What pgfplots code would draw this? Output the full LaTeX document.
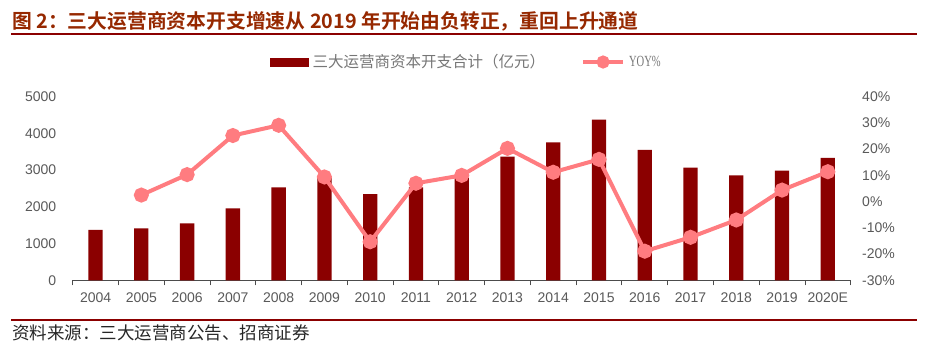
\documentclass[border=0pt]{standalone}
\usepackage{pgfplots}
\pgfplotsset{compat=1.18}
\usepackage{fontspec}
\setmainfont{Liberation Sans}
\newfontfamily\cjk{Noto Sans CJK SC}[BoldFont={Noto Sans CJK SC Bold}]
\newfontfamily\serifc{Liberation Serif}[FakeStretch=0.68]
\definecolor{barred}{RGB}{139,0,0}
\definecolor{linepink}{RGB}{255,124,128}
\definecolor{titlered}{RGB}{150,40,0}
\definecolor{lblgray}{RGB}{89,89,89}
\definecolor{leggray}{RGB}{118,118,118}
\begin{document}
\begin{tikzpicture}
\useasboundingbox (0bp,0bp) rectangle (932bp,-361bp);
\node[anchor=west, inner sep=0pt, text=titlered, font=\cjk\bfseries\fontsize{19.8bp}{24bp}\selectfont] at (12bp,-21bp) {图 2：三大运营商资本开支增速从 2019 年开始由负转正，重回上升通道};
\draw[barred, line width=2bp] (11bp,-34.3bp) -- (917bp,-34.3bp);
\draw[barred, line width=1.5bp] (11bp,-320bp) -- (917bp,-320bp);
\node[anchor=west, inner sep=0pt, text=black!85, font=\cjk\fontsize{17.5bp}{20bp}\selectfont] at (12bp,-333bp) {资料来源：三大运营商公告、招商证券};

\begin{axis}[
 at={(72.7bp,-280.3bp)}, anchor=south west, scale only axis,
 width=778bp, height=183.6bp,
 xmin=-0.5, xmax=16.5, ymin=0, ymax=5000,
 axis x line*=bottom, axis y line*=left,
 y axis line style={draw=none},
 x axis line style={draw=black!70, line width=1bp},
 xtick={0,...,16},
 xticklabels={2004,2005,2006,2007,2008,2009,2010,2011,2012,2013,2014,2015,2016,2017,2018,2019,2020E},
 minor xtick={-0.5,0.5,...,16.5},
 major tick length=0pt, minor tick length=5bp, tick align=outside,
 minor tick style={draw=black!70, line width=0.8bp},
 ytick={0,1000,...,5000},
 tick label style={font=\fontsize{14bp}{16bp}\selectfont, text=lblgray},
 yticklabel style={xshift=-13bp},
 xticklabel style={yshift=-9bp},
 scaled y ticks=false,
 /pgf/number format/assume math mode=true,
 /pgf/number format/set thousands separator={},
 clip=false,
]
\addplot[ybar, bar width=14.3bp, fill=barred, draw=none] coordinates {
(0,1370) (1,1416) (2,1552) (3,1961) (4,2533) (5,2795) (6,2350) (7,2533) (8,2795)
(9,3366) (10,3758) (11,4374) (12,3549) (13,3067) (14,2859) (15,2985) (16,3331)};
\end{axis}

\begin{axis}[
 at={(72.7bp,-280.3bp)}, anchor=south west, scale only axis,
 width=778bp, height=183.6bp,
 xmin=-0.5, xmax=16.5, ymin=-30, ymax=40,
 axis y line*=right, axis x line=none,
 y axis line style={draw=none},
 ytick={-30,-20,...,40}, major tick length=0pt,
 yticklabel={\pgfmathprintnumber{\tick}\%},
 yticklabel style={xshift=8bp, font=\fontsize{14bp}{16bp}\selectfont, text=lblgray},
 /pgf/number format/assume math mode=true,
 clip=false,
 legend columns=2,
 legend style={at={(axis description cs:0.2536,1.189)}, anchor=west, draw=none, fill=none,
   inner sep=0pt, nodes={inner sep=0pt}, font=\fontsize{15.5bp}{18bp}\selectfont, text=leggray,
   /tikz/every odd column/.style={column sep=4bp},
   /tikz/every even column/.style={column sep=36bp}},
 legend cell align=left,
]
\addlegendimage{legend image code/.code={\fill[barred] (0bp,-3.7bp) rectangle (38bp,3.7bp);}}
\addlegendentry{\cjk 三大运营商资本开支合计（亿元）}
\addplot[linepink, line width=4bp, mark=*, mark size=5.5bp, mark options={fill=linepink, draw=none},
 legend image code/.code={\draw[linepink, line width=4bp] (0bp,0bp) -- (40bp,0bp); \fill[linepink] (20bp,0bp) circle (4.5bp);}]
 coordinates {
(1,2.5) (2,10.3) (3,25.2) (4,29.1) (5,9.4) (6,-15.3) (7,7.0) (8,10.0)
(9,20.3) (10,11.2) (11,16.1) (12,-18.9) (13,-13.6) (14,-7.0) (15,4.4) (16,11.4)};
\addlegendentry{\serifc YOY\%}
\end{axis}
\end{tikzpicture}
\end{document}
